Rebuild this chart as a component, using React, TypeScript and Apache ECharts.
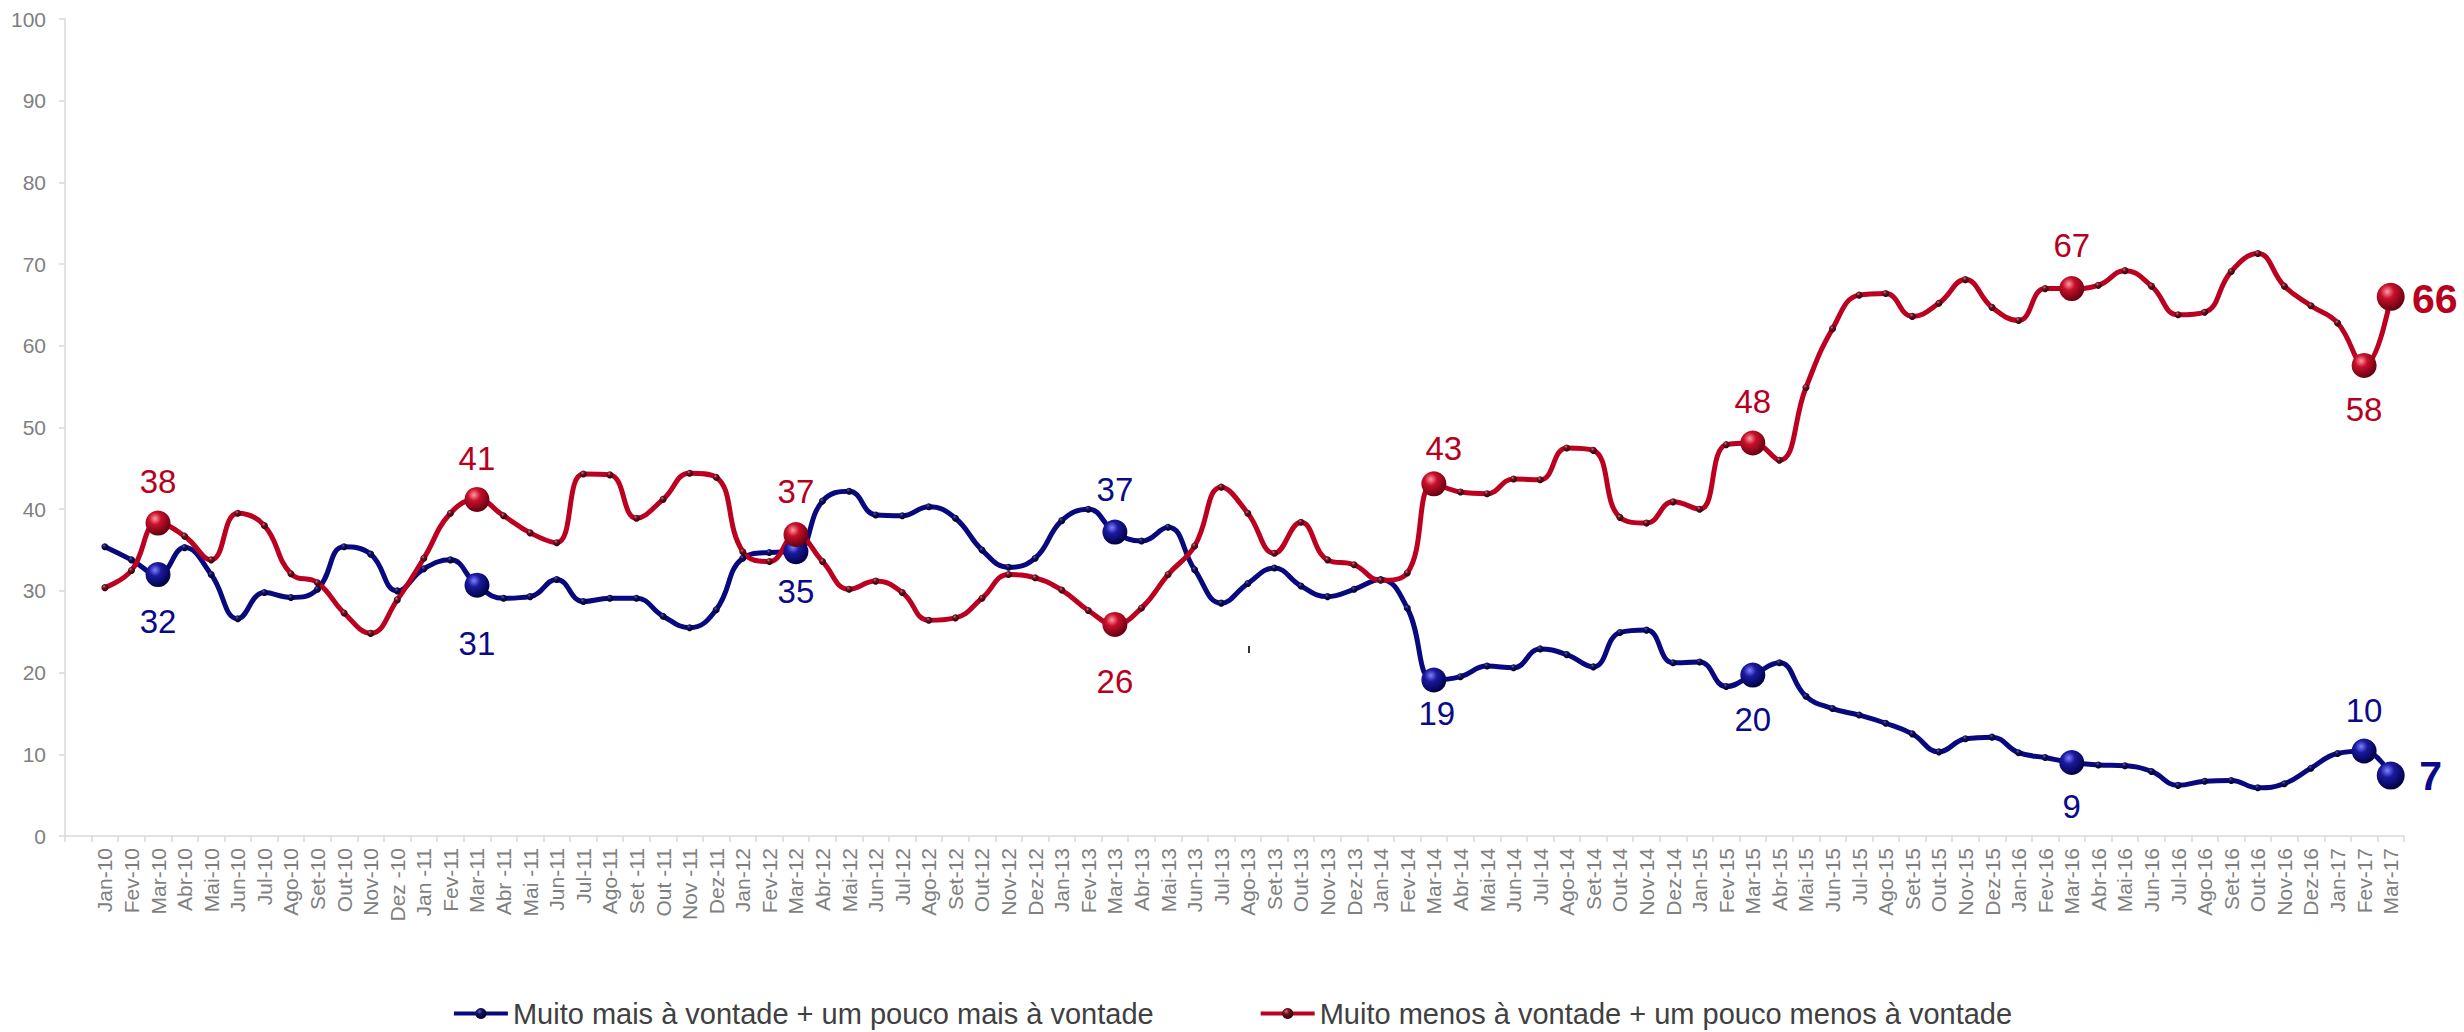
import React, { useEffect, useRef } from "react";
import * as echarts from "echarts";

// x categories (first slot is an empty band, as in the reference)
const categories: string[] = [
  "",
  "Jan-10", "Fev-10", "Mar-10", "Abr-10", "Mai-10", "Jun-10", "Jul-10", "Ago-10", "Set-10", "Out-10", "Nov-10", "Dez -10",
  "Jan -11", "Fev-11", "Mar-11", "Abr -11", "Mai -11", "Jun-11", "Jul-11", "Ago-11", "Set -11", "Out -11", "Nov -11", "Dez-11",
  "Jan-12", "Fev-12", "Mar-12", "Abr-12", "Mai-12", "Jun-12", "Jul-12", "Ago-12", "Set-12", "Out-12", "Nov-12", "Dez-12",
  "Jan-13", "Fev-13", "Mar-13", "Abr-13", "Mai-13", "Jun-13", "Jul-13", "Ago-13", "Set-13", "Out-13", "Nov-13", "Dez-13",
  "Jan-14", "Fev-14", "Mar-14", "Abr-14", "Mai-14", "Jun-14", "Jul-14", "Ago-14", "Set-14", "Out-14", "Nov-14", "Dez-14",
  "Jan-15", "Fev-15", "Mar-15", "Abr-15", "Mai-15", "Jun-15", "Jul-15", "Ago-15", "Set-15", "Out-15", "Nov-15", "Dez-15",
  "Jan-16", "Fev-16", "Mar-16", "Abr-16", "Mai-16", "Jun-16", "Jul-16", "Ago-16", "Set-16", "Out-16", "Nov-16", "Dez-16",
  "Jan-17", "Fev-17", "Mar-17",
];

const seriesNames = [
  "Muito mais à vontade + um pouco mais à vontade",
  "Muito menos à vontade + um pouco menos à vontade",
];

// Muito mais à vontade + um pouco mais à vontade (Jan-10 .. Mar-17)
const maisValues: number[] = [
  35.4, 33.8, 32.0, 35.3, 32.0, 26.6, 29.8, 29.2, 30.2, 35.4, 34.5, 30.0,
  32.7, 33.8, 30.7, 29.1, 29.3, 31.4, 28.7, 29.1, 29.1, 26.9, 25.5, 27.7,
  34.0, 34.7, 34.8, 41.0, 42.2, 39.3, 39.2, 40.3, 38.9, 35.0, 32.9, 34.0,
  38.6, 40.0, 37.2, 36.1, 37.8, 32.6, 28.5, 30.9, 32.8, 30.6, 29.3, 30.2,
  31.4, 27.9, 19.1, 19.5, 20.8, 20.6, 22.9, 22.2, 20.7, 24.9, 25.2, 21.2,
  21.3, 18.3, 19.7, 21.2, 17.1, 15.6, 14.8, 13.8, 12.5, 10.3, 11.9, 12.1,
  10.2, 9.6, 9.0, 8.7, 8.6, 7.9, 6.2, 6.7, 6.8, 5.9, 6.4, 8.3,
  10.1, 10.4, 7.4,
];

// Muito menos à vontade + um pouco menos à vontade (Jan-10 .. Mar-17)
const menosValues: number[] = [
  30.4, 32.5, 38.3, 36.7, 33.8, 39.5, 38.0, 32.1, 31.0, 27.3, 24.8, 28.9,
  34.0, 39.5, 41.2, 39.2, 37.1, 35.9, 44.3, 44.2, 38.9, 41.2, 44.4, 43.9,
  34.8, 33.6, 36.9, 33.6, 30.2, 31.2, 29.8, 26.4, 26.7, 29.1, 32.0, 31.6,
  30.1, 27.6, 25.9, 27.9, 32.0, 35.5, 42.7, 39.5, 34.6, 38.4, 33.8, 33.2,
  31.3, 32.2, 43.1, 42.1, 41.9, 43.7, 43.6, 47.5, 47.2, 39.0, 38.3, 40.9,
  40.0, 47.9, 48.1, 46.0, 54.9, 62.1, 66.2, 66.4, 63.6, 65.2, 68.1, 64.7,
  63.1, 67.0, 67.0, 67.4, 69.2, 67.3, 63.8, 64.1, 69.1, 71.3, 67.3, 64.9,
  62.8, 57.6, 66.0,
];

// indices (into the value arrays) of labelled points
const labelledIdx: number[] = [2, 14, 26, 38, 50, 62, 74, 85, 86];

// label offsets [dx, dy] (px) for the labelled points
const maisOffsets: number[][] = [[0, 47], [0, 58], [0, 40], [0, -43], [3, 34], [0, 44], [0, 44], [0, -41], [40, 0]];
const menosOffsets: number[][] = [[0, -42], [0, -41], [0, -43], [0, 57], [10, -35], [0, -42], [0, -43], [0, 44], [44, 2]];

const BLUE = "#08087f";
const RED = "#BC0020";
const FONT = "'Liberation Sans', Arial, Helvetica, sans-serif";

function sphere(light: string, mid: string, dark: string) {
  return new echarts.graphic.RadialGradient(0.38, 0.32, 0.7, [
    { offset: 0, color: light },
    { offset: 0.35, color: mid },
    { offset: 1, color: dark },
  ]);
}

function buildData(values: number[], offsets: number[][], light: string, mid: string, dark: string, labelColor: string) {
  const data: any[] = [null];
  values.forEach((v, i) => {
    const k = labelledIdx.indexOf(i);
    if (k < 0) {
      data.push(v);
      return;
    }
    const last = i === values.length - 1;
    data.push({
      value: v,
      symbolSize: last ? 28 : 25,
      itemStyle: { color: sphere(light, mid, dark) },
      label: {
        show: true,
        position: "inside",
        offset: offsets[k],
        formatter: String(Math.round(v)),
        color: labelColor,
        fontFamily: FONT,
        fontSize: last ? 41 : 33,
        fontWeight: last ? "bold" : "normal",
      },
    });
  });
  return data;
}

export default function App() {
  const ref = useRef<HTMLDivElement>(null);

  useEffect(() => {
    if (!ref.current) return;
    const chart = echarts.init(ref.current, undefined, { renderer: "svg" });
    const smallBlue = sphere("#5a5ac8", "#101060", "#000025");
    const smallRed = sphere("#e07080", "#701020", "#300008");
    chart.setOption({
      animation: false,
      backgroundColor: "#ffffff",
      grid: { left: 65, right: 60, top: 19, bottom: 196, containLabel: false },
      legend: {
        left: "center",
        top: 994,
        itemWidth: 54,
        itemHeight: 14,
        itemGap: 105,
        lineStyle: { width: 4 },
        textStyle: { fontFamily: FONT, fontSize: 29, color: "#404040" },
        data: seriesNames,
      },
      xAxis: {
        type: "category",
        data: categories,
        boundaryGap: true,
        axisLine: { show: true, lineStyle: { color: "#d9d9d9", width: 1.5 } },
        axisTick: { show: true, interval: 0, length: 6, lineStyle: { color: "#d9d9d9", width: 1.5 } },
        axisLabel: {
          interval: 0,
          rotate: 90,
          margin: 12,
          fontFamily: FONT,
          fontSize: 21,
          color: "#7f7f7f",
        },
        splitLine: { show: false },
      },
      yAxis: {
        type: "value",
        min: 0,
        max: 100,
        interval: 10,
        axisLine: { show: true, lineStyle: { color: "#d9d9d9", width: 1.5 } },
        axisTick: { show: true, length: 6, lineStyle: { color: "#d9d9d9", width: 1.5 } },
        axisLabel: { margin: 19, fontFamily: FONT, fontSize: 21, color: "#7f7f7f" },
        splitLine: { show: false },
      },
      graphic: [
        { type: "rect", shape: { x: 1248, y: 646, width: 2, height: 7 }, style: { fill: "#333333" } },
      ],
      series: [
        {
          name: seriesNames[0],
          type: "line",
          smooth: 0.45,
          symbol: "circle",
          symbolSize: 7,
          showAllSymbol: true,
          connectNulls: false,
          silent: true,
          lineStyle: { color: BLUE, width: 5 },
          itemStyle: { color: smallBlue },
          emphasis: { disabled: true },
          data: buildData(maisValues, maisOffsets, "#8080ff", "#1a1aa0", "#000040", "#0A0A8A"),
        },
        {
          name: seriesNames[1],
          type: "line",
          smooth: 0.45,
          symbol: "circle",
          symbolSize: 7,
          showAllSymbol: true,
          connectNulls: false,
          silent: true,
          lineStyle: { color: RED, width: 5 },
          itemStyle: { color: smallRed },
          emphasis: { disabled: true },
          data: buildData(menosValues, menosOffsets, "#ff9aa5", "#c8102a", "#600010", "#B8001E"),
        },
      ],
    });
    return () => chart.dispose();
  }, []);

  return (
    <div
      ref={ref}
      style={{ position: "fixed", left: 0, top: 0, width: 2464, height: 1032, background: "#fff" }}
    />
  );
}
